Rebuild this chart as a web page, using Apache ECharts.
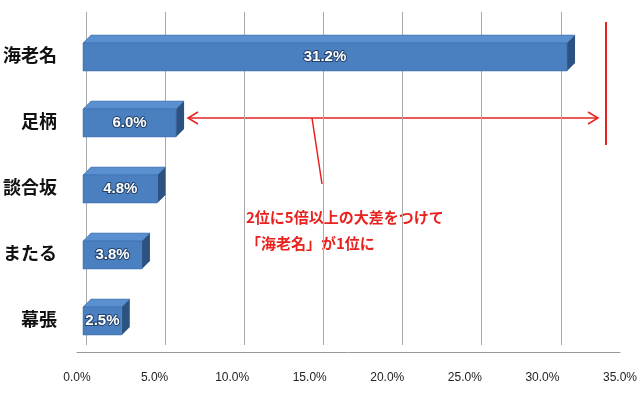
<!DOCTYPE html>
<html><head><meta charset="utf-8">
<script src="https://cdn.jsdelivr.net/npm/echarts@6/dist/echarts.min.js"></script>
<style>html,body{margin:0;background:#fff}#c{width:640px;height:400px}</style>
</head><body><div id="c"></div>
<script>
const categories = ['海老名','足柄','談合坂','またる','幕張'];
const values = [31.2, 6.0, 4.8, 3.8, 2.5];
const tickValues = [0,5,10,15,20,25,30,35];
const noteLines = ['2位に5倍以上の大差をつけて','「海老名」が1位に'];

const chart = echarts.init(document.getElementById('c'));
const data = values.map((v,i)=>[v,i]);
chart.setOption({
  animation:false,
  grid:[{left:64,width:588,top:22,bottom:48},{left:86,width:588,top:12,bottom:55}],
  xAxis:[
    {gridIndex:0,type:'value',min:0,max:35,interval:5,
     axisLine:{show:true,lineStyle:{color:'#999'}},axisTick:{show:false},splitLine:{show:false},
     axisLabel:{color:'#222',fontSize:12,fontFamily:'Liberation Sans',margin:20,formatter:v=>v.toFixed(1)+'%'}},
    {gridIndex:1,type:'value',min:0,max:35,interval:5,axisLine:{show:false},axisTick:{show:false},
     axisLabel:{show:false},splitLine:{show:true,lineStyle:{color:'#aaa'}}}
  ],
  yAxis:[
    {gridIndex:0,type:'category',data:categories,inverse:true,axisLine:{show:false},axisTick:{show:false},
     axisLabel:{color:'#111',fontSize:18,fontWeight:'bold',fontFamily:'Noto Sans CJK JP',margin:20}},
    {gridIndex:1,type:'category',data:categories,inverse:true,show:false}
  ],
  series:[{
    type:'custom',xAxisIndex:0,yAxisIndex:0,data:data,
    renderItem:(params,api)=>{
      const v=api.value(0), i=api.value(1);
      const e=api.coord([v,i]), s=api.coord([0,i]);
      const h=28,d=8;
      const x0=s[0]+6, x1=e[0]+6, y0=e[1]-h/2+2, y1=y0+h;
      return {type:'group',children:[
        {type:'polygon',shape:{points:[[x0,y0],[x0+d,y0-d],[x1+d,y0-d],[x1,y0]]},style:{fill:'#5a8fd0',stroke:'#3d6aa3',lineWidth:0.5}},
        {type:'polygon',shape:{points:[[x1,y0],[x1+d,y0-d],[x1+d,y1-d],[x1,y1]]},style:{fill:'#2c5282'}},
        {type:'rect',shape:{x:x0,y:y0,width:x1-x0,height:h},style:{fill:'#4a7fc0',stroke:'#3a6aa8',lineWidth:0.5}},
        {type:'text',x:(x0+x1)/2,y:(y0+y1)/2,style:{text:v.toFixed(1)+'%',fill:'#fff',fontSize:15,fontWeight:'bold',
          fontFamily:'Liberation Sans',align:'center',verticalAlign:'middle',stroke:'#23436e',lineWidth:2}}
      ]};
    }
  }],
  graphic:[
    {type:'line',shape:{x1:606,y1:22,x2:606,y2:145},style:{stroke:'#e8231f',lineWidth:2}},
    {type:'line',shape:{x1:188,y1:118,x2:598,y2:118},style:{stroke:'#e8231f',lineWidth:1.5}},
    {type:'polyline',shape:{points:[[198,112],[188,118],[198,124]]},style:{stroke:'#e8231f',lineWidth:1.5,fill:null}},
    {type:'polyline',shape:{points:[[588,112],[598,118],[588,124]]},style:{stroke:'#e8231f',lineWidth:1.5,fill:null}},
    {type:'line',shape:{x1:312,y1:118,x2:322,y2:184},style:{stroke:'#e8231f',lineWidth:1.5}},
    {type:'text',left:246,top:204,style:{text:noteLines.join('\n'),fill:'#e8231f',fontSize:15,fontWeight:'bold',
      fontFamily:'Noto Sans CJK JP',lineHeight:26,backgroundColor:'#fff'}}
  ]
});
</script></body></html>
